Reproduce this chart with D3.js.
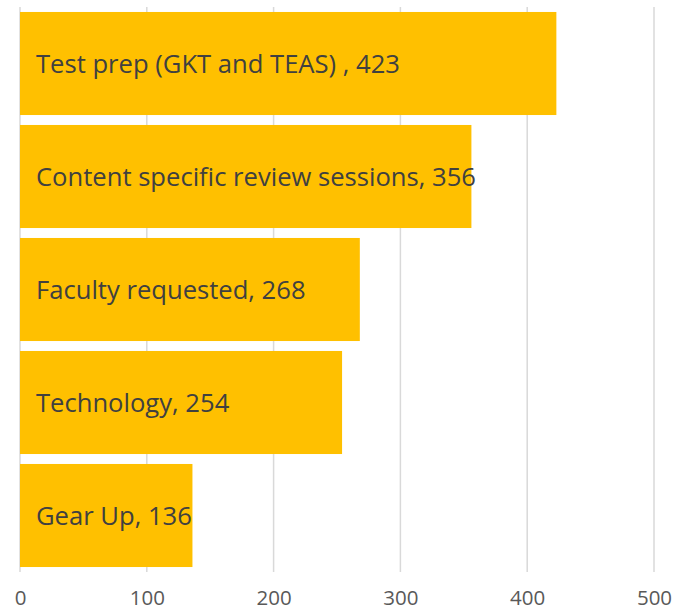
<!DOCTYPE html>
<html>
<head>
<meta charset="utf-8">
<script src="https://cdn.jsdelivr.net/npm/d3@7"></script>
<style>
  html, body { margin: 0; padding: 0; background: #fff; }
  svg { display: block; }
</style>
</head>
<body>
<svg id="chart" width="689" height="613"></svg>
<script>
const categories = ["Test prep (GKT and TEAS) ", "Content specific review sessions", "Faculty requested", "Technology", "Gear Up"];
const values = [423, 356, 268, 254, 136];
const tickValues = [0, 100, 200, 300, 400, 500];

const svg = d3.select("#chart");
const x = d3.scaleLinear().domain([0, 500]).range([20, 654]);
const y = d3.scaleBand().domain(categories).range([7, 572]).paddingInner(0.088).paddingOuter(0.044);

const font = "'Open Sans', sans-serif";
const labelSize = 25.6;

// gridlines
svg.append("g").selectAll("line").data(tickValues).join("line")
  .attr("x1", d => x(d)).attr("x2", d => x(d))
  .attr("y1", 7).attr("y2", 572)
  .attr("stroke", "#d9d9d9").attr("stroke-width", 1.5);

// bars
svg.append("g").selectAll("rect").data(categories).join("rect")
  .attr("x", x(0))
  .attr("y", d => y(d))
  .attr("width", (d, i) => x(values[i]) - x(0))
  .attr("height", y.bandwidth())
  .attr("fill", "#FFC000");

// labels
svg.append("g").selectAll("text").data(categories).join("text")
  .attr("x", 36)
  .attr("y", d => y(d) + y.bandwidth() / 2 + labelSize * 0.37)
  .attr("font-family", font)
  .attr("font-size", labelSize)
  .attr("fill", "#404040")
  .text((d, i) => d + ", " + values[i]);

// axis tick labels
const axis = d3.axisBottom(x).tickValues(tickValues).tickSize(0).tickPadding(0);
const ag = svg.append("g").attr("transform", "translate(0,590)").call(axis);
ag.select(".domain").remove();
ag.selectAll("text")
  .attr("y", 0)
  .attr("dy", "0.71em")
  .attr("font-family", font)
  .attr("font-size", 20.5)
  .attr("fill", "#595959");
</script>
</body>
</html>
